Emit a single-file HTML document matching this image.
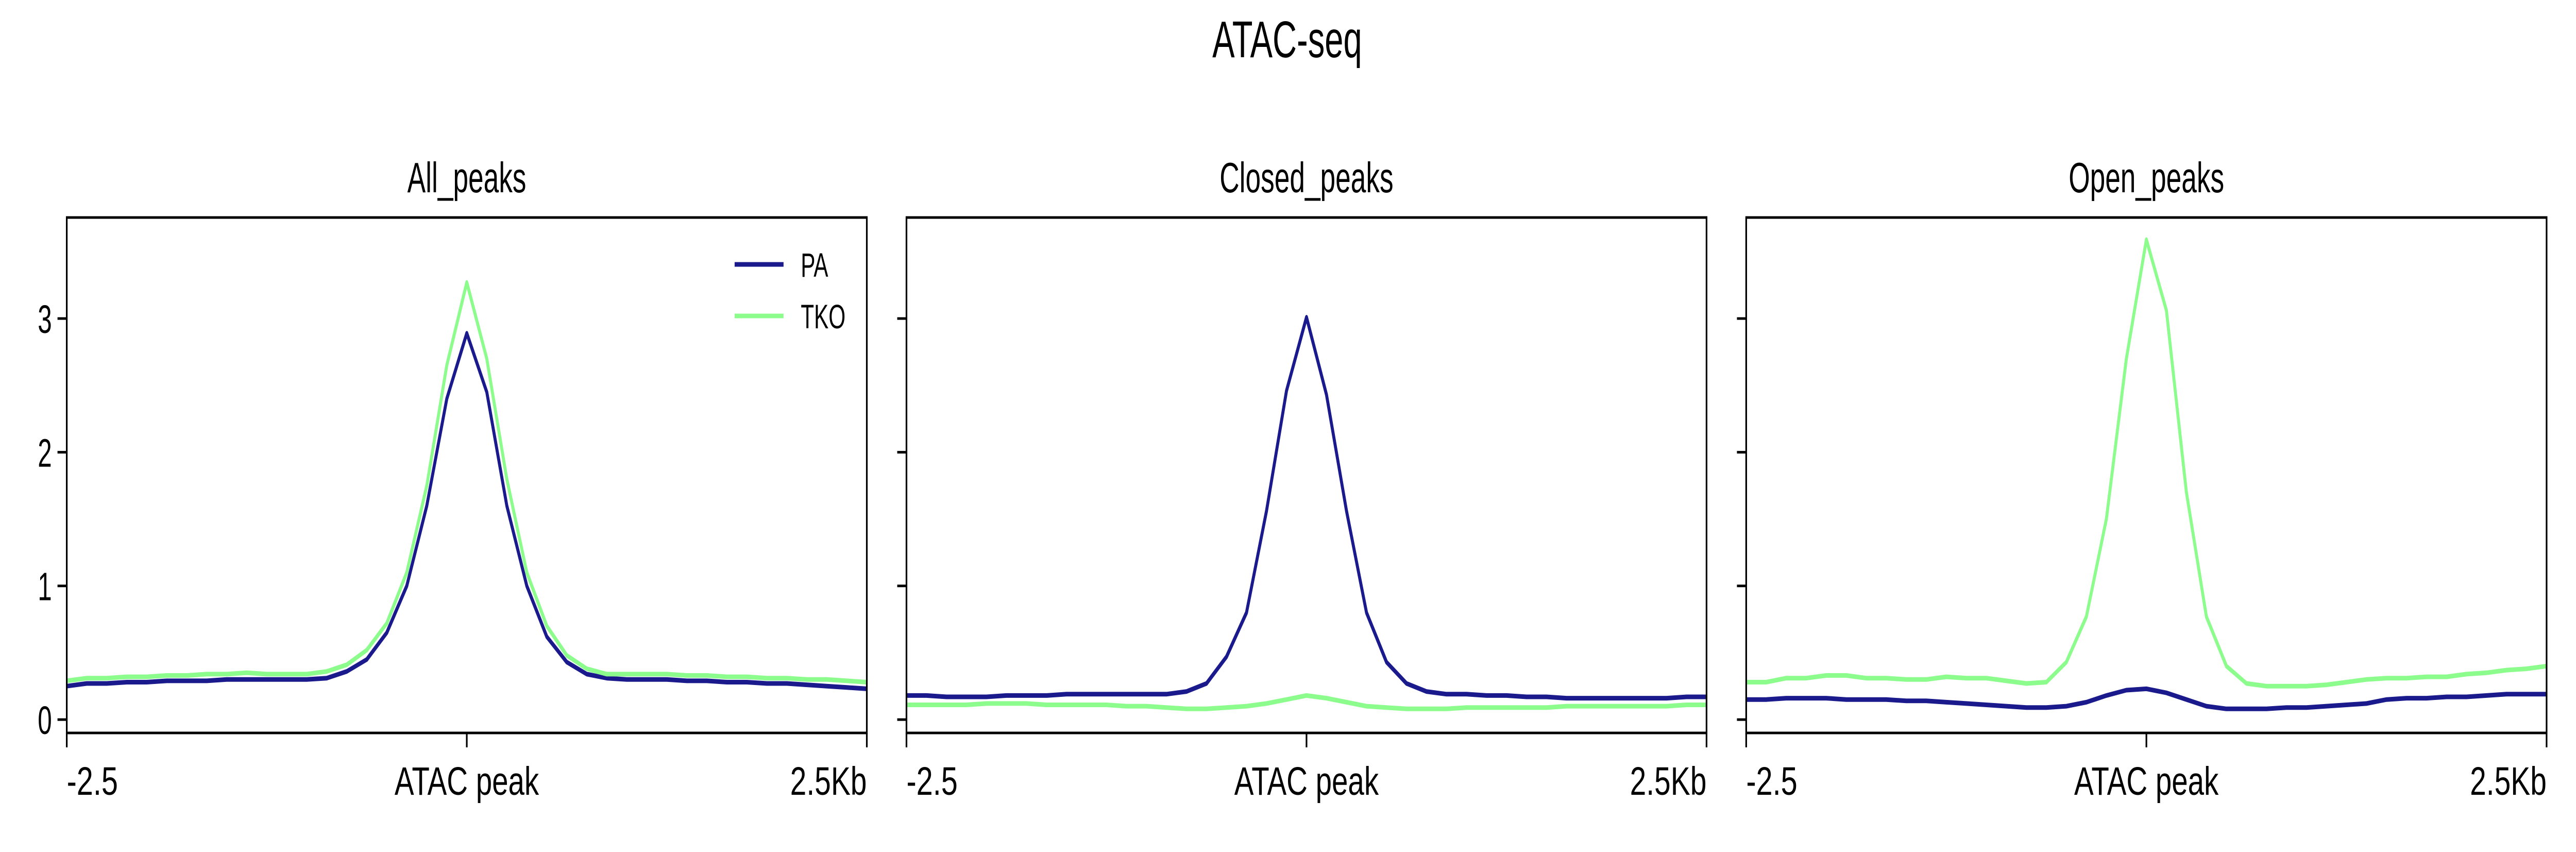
<!DOCTYPE html>
<html><head><meta charset="utf-8"><style>
html,body{margin:0;padding:0;background:#fff;width:100%;height:100%;overflow:hidden}
svg{display:block;width:100vw;height:100vh}
text{font-family:"Liberation Sans","DejaVu Sans",sans-serif;fill:#000}
</style></head><body>
<svg id="fig" viewBox="0 0 7795 1653" preserveAspectRatio="none" xmlns="http://www.w3.org/2000/svg">
<rect width="7795" height="1653" fill="#fff"/>
<text x="3895" y="111" font-size="100" text-anchor="middle" textLength="453" lengthAdjust="spacingAndGlyphs">ATAC-seq</text>
</svg>
<script>
const panelTitles = ["All_peaks", "Closed_peaks", "Open_peaks"];
const seriesNames = ["PA", "TKO"];
const xTickLabels = ["-2.5", "ATAC peak", "2.5Kb"];
const yTicks = [0, 1, 2, 3];
const paAll = [0.25,0.27,0.27,0.28,0.28,0.29,0.29,0.29,0.30,0.30,0.30,0.30,0.30,0.31,0.36,0.45,0.65,1.0,1.6,2.4,2.89,2.45,1.6,1.0,0.62,0.43,0.34,0.31,0.30,0.30,0.30,0.29,0.29,0.28,0.28,0.27,0.27,0.26,0.25,0.24,0.23];
const tkoAll = [0.29,0.31,0.31,0.32,0.32,0.33,0.33,0.34,0.34,0.35,0.34,0.34,0.34,0.36,0.41,0.52,0.72,1.1,1.75,2.65,3.27,2.7,1.8,1.1,0.7,0.48,0.38,0.34,0.34,0.34,0.34,0.33,0.33,0.32,0.32,0.31,0.31,0.30,0.30,0.29,0.28];
const paClosed = [0.18,0.18,0.17,0.17,0.17,0.18,0.18,0.18,0.19,0.19,0.19,0.19,0.19,0.19,0.21,0.27,0.47,0.8,1.56,2.46,3.01,2.43,1.56,0.8,0.43,0.27,0.21,0.19,0.19,0.18,0.18,0.17,0.17,0.16,0.16,0.16,0.16,0.16,0.16,0.17,0.17];
const tkoClosed = [0.11,0.11,0.11,0.11,0.12,0.12,0.12,0.11,0.11,0.11,0.11,0.10,0.10,0.09,0.08,0.08,0.09,0.10,0.12,0.15,0.18,0.16,0.13,0.10,0.09,0.08,0.08,0.08,0.09,0.09,0.09,0.09,0.09,0.10,0.10,0.10,0.10,0.10,0.10,0.11,0.11];
const paOpen = [0.15,0.15,0.16,0.16,0.16,0.15,0.15,0.15,0.14,0.14,0.13,0.12,0.11,0.10,0.09,0.09,0.10,0.13,0.18,0.22,0.23,0.20,0.15,0.10,0.08,0.08,0.08,0.09,0.09,0.10,0.11,0.12,0.15,0.16,0.16,0.17,0.17,0.18,0.19,0.19,0.19];
const tkoOpen = [0.28,0.28,0.31,0.31,0.33,0.33,0.31,0.31,0.30,0.30,0.32,0.31,0.31,0.29,0.27,0.28,0.43,0.77,1.5,2.7,3.59,3.06,1.7,0.77,0.4,0.27,0.25,0.25,0.25,0.26,0.28,0.30,0.31,0.31,0.32,0.32,0.34,0.35,0.37,0.38,0.40];

(function(){
const NS = "http://www.w3.org/2000/svg";
const svg = document.getElementById("fig");
const colors = ["#1a1a8c", "#8cfc8c"];
const panels = [
  {left:202, right:2623, pa:paAll, tko:tkoAll, key:"all"},
  {left:2743, right:5164, pa:paClosed, tko:tkoClosed, key:"closed"},
  {left:5284, right:7706, pa:paOpen, tko:tkoOpen, key:"open"}
];
const axTop = 422, axBottom = 1422, yMin = -0.1, yMax = 3.756;
function yScale(v){ return axBottom - (v - yMin) / (yMax - yMin) * (axBottom - axTop); }
function mk(tag, attrs){ const e = document.createElementNS(NS, tag); for (const k in attrs) e.setAttribute(k, attrs[k]); svg.appendChild(e); return e; }

panels.forEach((p, pi) => {
  const xScale = i => p.left + i / (p.pa.length - 1) * (p.right - p.left);
  const t = mk("text", {x:(p.left+p.right)/2, y:373, "font-size":83, "text-anchor":"middle"});
  t.textContent = panelTitles[pi];
  
  
  [p.pa, p.tko].forEach((arr, si) => {
    const d = arr.map((v, i) => (i ? "L" : "M") + xScale(i).toFixed(1) + "," + yScale(v).toFixed(1)).join(" ");
    const path = mk("path", {d:d, fill:"none", stroke:colors[si], "stroke-width":9, "stroke-linejoin":"round"});
    
    
  });
  const frame = mk("rect", {x:p.left, y:axTop, width:p.right-p.left, height:axBottom-axTop, fill:"none", stroke:"#000", "stroke-width":5});
  
  
  yTicks.forEach(v => {
    const yy = yScale(v);
    const tk = mk("line", {x1:p.left-28, x2:p.left, y1:yy, y2:yy, stroke:"#000", "stroke-width":5});
    
    
    if (pi === 0) {
      const lb = mk("text", {x:p.left-45, y:yy+28, "font-size":77, "text-anchor":"end"});
      lb.textContent = String(v);
      
      
    }
  });
  const xs = [p.left, (p.left+p.right)/2, p.right];
  const anchors = ["start", "middle", "end"];
  const widths = [155, 437, 232];
  xs.forEach((x, k) => {
    const tk = mk("line", {x1:x, x2:x, y1:axBottom, y2:axBottom+28, stroke:"#000", "stroke-width":5});
    
    
    const lb = mk("text", {x:x, y:1542, "font-size":77, "text-anchor":anchors[k], textLength:widths[k], lengthAdjust:"spacingAndGlyphs"});
    lb.textContent = xTickLabels[k];
    
    
  });
  if (pi === 0) {
    seriesNames.forEach((n, si) => {
      const yy = 513 + si * 100;
      const ln = mk("line", {x1:2223, x2:2371, y1:yy, y2:yy, stroke:colors[si], "stroke-width":9});
      
      
      const lt = mk("text", {x:2423, y:yy+24, "font-size":66});
      lt.textContent = n;
      
      
    });
  }
});
})();
</script>
</body></html>
